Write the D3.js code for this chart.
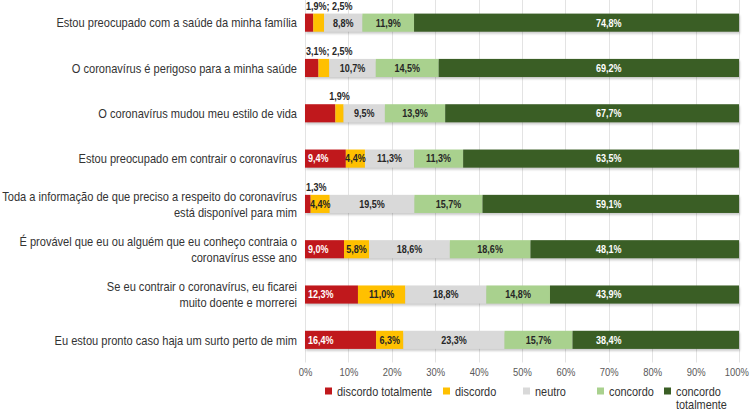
<!DOCTYPE html>
<html>
<head>
<meta charset="utf-8">
<script src="https://cdn.jsdelivr.net/npm/d3@7"></script>
<style>
  html, body { margin: 0; padding: 0; background: #ffffff; }
  svg { display: block; font-family: "Liberation Sans", Arial, sans-serif; }
</style>
</head>
<body>
<svg id="chart" width="750" height="413"></svg>
<script>
// ---------------- data ----------------
const categories = [
  ["Estou preocupado com a saúde da minha família"],
  ["O coronavírus é perigoso para a minha saúde"],
  ["O coronavírus mudou meu estilo de vida"],
  ["Estou preocupado em contrair o coronavírus"],
  ["Toda a informação de que preciso a respeito do coronavírus", "está disponível para mim"],
  ["É provável que eu ou alguém que eu conheço contraia o", "coronavírus esse ano"],
  ["Se eu contrair o coronavírus, eu ficarei", "muito doente e morrerei"],
  ["Eu estou pronto caso haja um surto perto de mim"]
];
const seriesNames = ["discordo totalmente", "discordo", "neutro", "concordo", "concordo totalmente"];
const discordoTotalmente = [1.9, 3.1, 7.0, 9.4, 1.3, 9.0, 12.3, 16.4];
const discordo           = [2.5, 2.5, 1.9, 4.4, 4.4, 5.8, 11.0, 6.3];
const neutro             = [8.8, 10.7, 9.5, 11.3, 19.5, 18.6, 18.8, 23.3];
const concordo           = [11.9, 14.5, 13.9, 11.3, 15.7, 18.6, 14.8, 15.7];
const concordoTotalmente = [74.8, 69.2, 67.7, 63.5, 59.1, 48.1, 43.9, 38.4];
// labels shown above the bar for narrow segments (row index -> text)
const outsideLabels = { 0: "1,9%; 2,5%", 1: "3,1%; 2,5%", 2: "1,9%", 4: "1,3%" };
const tickValues = [0, 10, 20, 30, 40, 50, 60, 70, 80, 90, 100];

// ---------------- styles ----------------
const colors = ["#C0181C", "#FFC000", "#D9D9D9", "#A9D18E", "#3A5E25"];
const labelColors = ["#ffffff", "#262626", "#262626", "#262626", "#ffffff"];
const NARROW = 0.82;

const svg = d3.select("#chart");
const margin = { left: 305, right: 11, top: 0 };
const plotW = 750 - margin.left - margin.right;
const plotH = 362.5;

const seriesValues = [discordoTotalmente, discordo, neutro, concordo, concordoTotalmente];
const rows = categories.map((c, i) => {
  const vals = seriesValues.map(s => s[i]);
  const total = d3.sum(vals);
  let acc = 0;
  return vals.map((v, k) => {
    const x0 = acc / total * 100;
    acc += v;
    return { row: i, k, v, x0, x1: acc / total * 100 };
  });
});

const x = d3.scaleLinear().domain([0, 100]).range([margin.left, margin.left + plotW]);
const y = d3.scaleBand().domain(d3.range(categories.length)).range([margin.top, margin.top + plotH]).paddingInner(0.6).paddingOuter(0.3);

// condense text horizontally (Arial Narrow look)
function narrow(el) {
  const len = el.getComputedTextLength();
  if (len > 0) {
    el.setAttribute("textLength", (len * NARROW).toFixed(2));
    el.setAttribute("lengthAdjust", "spacingAndGlyphs");
  }
}

const defs = svg.append("defs");
defs.append("filter").attr("id", "blur").attr("x", "-5%").attr("y", "-50%").attr("width", "110%").attr("height", "200%")
  .append("feGaussianBlur").attr("stdDeviation", 1);

// gridlines
svg.append("g").selectAll("line").data(tickValues).join("line")
  .attr("x1", d => Math.round(x(d)) + 0.5).attr("x2", d => Math.round(x(d)) + 0.5)
  .attr("y1", 0).attr("y2", plotH)
  .attr("stroke", "#E3E3E3").attr("stroke-width", 1);

// axis tick labels
const axis = d3.axisBottom(x).tickValues(tickValues).tickFormat(d => d + "%").tickSize(0).tickPadding(0);
const axisG = svg.append("g").attr("transform", `translate(0,${plotH + 5})`).call(axis);
axisG.select(".domain").remove();
axisG.selectAll("text").attr("font-size", 11.5).attr("fill", "#595959").attr("font-family", null)
  .each(function() { narrow(this); });
// keep the last label inside the picture
axisG.selectAll(".tick").filter(d => d === 100).select("text").attr("text-anchor", "end").attr("x", 9.5);

// bars with shadows
const barG = svg.append("g");
rows.forEach((segs, i) => {
  const y0 = y(i), h = y.bandwidth();
  barG.append("rect")
    .attr("x", x(0) + 1).attr("y", y0 + 2)
    .attr("width", x(100) - x(0)).attr("height", h)
    .attr("fill", "#000").attr("opacity", 0.2)
    .attr("filter", "url(#blur)");
  barG.selectAll(null).data(segs).join("rect")
    .attr("x", d => x(d.x0)).attr("y", y0)
    .attr("width", d => x(d.x1) - x(d.x0)).attr("height", h)
    .attr("fill", d => colors[d.k]);
});

// data labels inside
const fmt = v => v.toFixed(1).replace(".", ",") + "%";
const labelG = svg.append("g").attr("font-size", 11).attr("font-weight", "bold");
rows.forEach((segs, i) => {
  const cy = y(i) + y.bandwidth() / 2;
  segs.forEach(d => {
    if (outsideLabels[i] !== undefined && (d.k === 0 || (d.k === 1 && i !== 4))) return;
    let tx, anchor = "middle";
    if (d.k === 0) { tx = x(d.x0) + 3; anchor = "start"; }
    else if (d.k === 4) { tx = x(70); }
    else { tx = (x(d.x0) + x(d.x1)) / 2; }
    labelG.append("text")
      .attr("x", tx).attr("y", cy).attr("dy", "0.35em")
      .attr("text-anchor", anchor)
      .attr("fill", labelColors[d.k])
      .text(fmt(d.v));
  });
});
// labels above bars
Object.entries(outsideLabels).forEach(([i, t]) => {
  i = +i;
  const segs = rows[i];
  let tx, anchor = "start";
  if (i === 2) { tx = (x(segs[1].x0) + x(segs[1].x1)) / 2; anchor = "middle"; }
  else { tx = x(0) + 1; }
  labelG.append("text")
    .attr("x", tx).attr("y", y(i) - 4)
    .attr("text-anchor", anchor).attr("fill", "#262626")
    .text(t);
});
labelG.selectAll("text").each(function() { narrow(this); });

// category labels
const catG = svg.append("g").attr("font-size", 13.5).attr("fill", "#333333").attr("text-anchor", "end");
categories.forEach((lines, i) => {
  const cy = y(i) + y.bandwidth() / 2;
  const lh = 16;
  lines.forEach((ln, j) => {
    catG.append("text").attr("x", margin.left - 8)
      .attr("y", cy + (j - (lines.length - 1) / 2) * lh)
      .attr("dy", "0.35em").text(ln);
  });
});
catG.selectAll("text").each(function() { narrow(this); });

// legend
const legendX = [325, 443, 523, 597, 664];
const legendY = 391;
const legG = svg.append("g").attr("font-size", 13.3).attr("fill", "#333333");
seriesNames.forEach((name, k) => {
  legG.append("rect").attr("x", legendX[k]).attr("y", legendY - 3.5).attr("width", 7).attr("height", 7).attr("fill", colors[k]);
  const words = k === 4 ? ["concordo", "totalmente"] : [name];
  words.forEach((w, j) => {
    legG.append("text").attr("x", legendX[k] + 12).attr("y", legendY + j * 13).attr("dy", "0.35em").text(w);
  });
});
legG.selectAll("text").each(function() { narrow(this); });
</script>
</body>
</html>
